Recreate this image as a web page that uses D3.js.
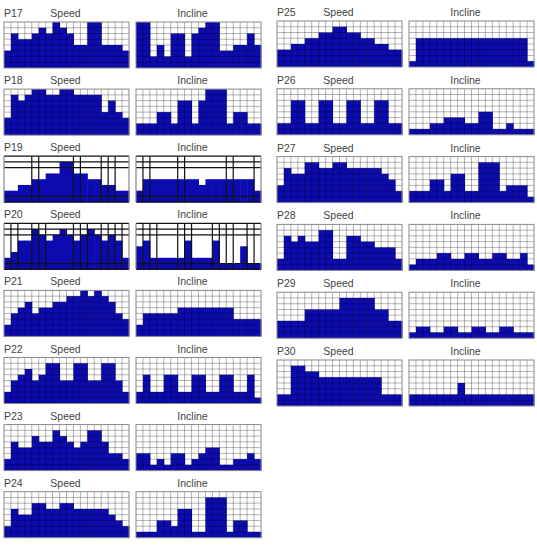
<!DOCTYPE html>
<html>
<head>
<meta charset="utf-8">
<script src="https://cdn.jsdelivr.net/npm/d3@7"></script>
<style>
  body { margin: 0; background: #fff; }
  svg { display: block; }
</style>
</head>
<body>
<script>
// program profiles, 18 segments each, level 0..8
const speedP17 = [3,6,5,5,6,7,6,8,7,6,4,4,8,8,4,4,4,3];
const inclineP17 = [8,8,2,4,2,6,6,2,6,7,8,8,3,3,4,4,6,4];
const speedP18 = [3,7,6,7,8,8,7,7,8,8,7,7,7,7,4,6,4,3];
const inclineP18 = [2,2,2,4,4,2,6,6,2,6,8,8,8,2,4,4,2,2];
const speedP19 = [2,2,3,3,4,4,5,5,7,7,5,5,4,4,3,3,2,2];
const inclineP19 = [2,4,4,4,4,4,4,4,4,3,4,4,4,4,4,4,4,2];
const speedP20 = [2,3,5,5,7,6,5,6,7,6,5,6,7,6,5,6,5,2];
const inclineP20 = [4,5,2,2,2,2,2,5,2,2,2,5,1,1,1,4,1,1];
const speedP21 = [2,4,5,6,4,5,5,6,6,7,7,8,7,8,7,6,4,3];
const inclineP21 = [2,4,4,4,4,4,5,5,5,5,5,5,5,5,3,3,3,3];
const speedP22 = [2,4,5,6,4,5,7,7,4,4,7,7,4,4,7,7,4,2];
const inclineP22 = [2,5,2,2,5,5,2,2,5,5,2,2,5,5,2,2,5,1];
const speedP23 = [2,5,4,4,6,5,5,7,6,5,4,5,7,7,5,3,3,2];
const inclineP23 = [3,3,1,2,1,3,3,1,2,3,4,4,1,1,2,2,3,2];
const speedP24 = [2,5,4,4,6,6,5,5,6,6,5,5,5,5,5,4,3,2];
const inclineP24 = [1,1,1,3,3,2,5,5,1,1,7,7,7,1,3,3,1,1];
const speedP25 = [3,3,4,4,5,5,6,6,7,7,6,6,5,5,4,4,3,3];
const inclineP25 = [1,5,5,5,5,5,5,5,5,5,5,5,5,5,5,5,5,1];
const speedP26 = [2,2,6,6,2,2,6,6,2,2,6,6,2,2,6,6,2,2];
const inclineP26 = [1,1,1,2,2,3,3,3,2,2,4,4,1,1,2,1,1,1];
const speedP27 = [3,6,5,5,7,7,6,6,7,7,6,6,6,6,6,5,4,2];
const inclineP27 = [2,2,2,4,4,2,5,5,2,2,7,7,7,2,3,3,3,1];
const speedP28 = [2,6,5,6,5,5,7,7,2,2,6,6,5,5,4,4,4,2];
const inclineP28 = [1,2,2,2,3,3,2,2,3,3,2,2,3,3,2,2,3,1];
const speedP29 = [3,3,3,3,5,5,5,5,5,7,7,7,7,7,5,5,3,3];
const inclineP29 = [1,2,2,1,1,2,2,1,1,2,2,1,1,2,2,1,1,1];
const speedP30 = [2,2,7,7,6,6,5,5,5,5,5,5,5,5,5,2,2,2];
const inclineP30 = [2,2,2,2,2,2,2,4,2,2,2,2,2,2,2,2,2,2];

const programNames = ["P17","P18","P19","P20","P21","P22","P23","P24",
                      "P25","P26","P27","P28","P29","P30"];
const speedSeries = [speedP17,speedP18,speedP19,speedP20,speedP21,speedP22,speedP23,speedP24,
                     speedP25,speedP26,speedP27,speedP28,speedP29,speedP30];
const inclineSeries = [inclineP17,inclineP18,inclineP19,inclineP20,inclineP21,inclineP22,inclineP23,inclineP24,
                       inclineP25,inclineP26,inclineP27,inclineP28,inclineP29,inclineP30];

// P19 and P20 are printed with a coarse black segment grid instead of the fine one
const coarseLines = {
  P19: { speed: [4,5,10,11,14,15,16], incline: [1,2,6,7,13,14,17], rows: [1,6,7] },
  P20: { speed: [1,2,4,5,6,10,11,12,14,15,16,17], incline: [1,2,3,6,7,8,11,12,13,14,16,17], rows: [1,6,7] }
};

const nCols = 18;
const nRows = 8;
const gridW = 125;
const gridH = 46;
const blue = "#0b0bb0";

const svg = d3.select("body").append("svg")
  .attr("width", 537)
  .attr("height", 550);

const x = d3.scaleBand().domain(d3.range(nCols)).range([0, gridW]).paddingInner(0).paddingOuter(0);
const xl = d3.scaleLinear().domain([0, nCols]).range([0, gridW]);
const y = d3.scaleLinear().domain([0, nRows]).range([gridH, 0]);

function drawGrid(g, values, coarse) {
  g.append("rect")
    .attr("width", gridW)
    .attr("height", gridH)
    .attr("fill", "#fff");

  g.selectAll("rect.bar")
    .data(values)
    .join("rect")
    .attr("class", "bar")
    .attr("x", (d, i) => x(i))
    .attr("width", x.bandwidth() + 0.5)
    .attr("y", d => y(d))
    .attr("height", d => gridH - y(d))
    .attr("fill", blue);

  if (!coarse) {
    const lines = g.append("g").attr("stroke", "#000").attr("stroke-opacity", 0.33).attr("stroke-width", 0.9);
    lines.selectAll("line.v")
      .data(d3.range(1, nCols))
      .join("line")
      .attr("x1", d => xl(d)).attr("x2", d => xl(d))
      .attr("y1", 0).attr("y2", gridH);
    lines.selectAll("line.h")
      .data(d3.range(1, nRows))
      .join("line")
      .attr("y1", d => y(d)).attr("y2", d => y(d))
      .attr("x1", 0).attr("x2", gridW);
    g.append("rect")
      .attr("width", gridW)
      .attr("height", gridH)
      .attr("fill", "none")
      .attr("stroke", "#888")
      .attr("stroke-width", 1);
  } else {
    const lines = g.append("g").attr("stroke", "#111").attr("stroke-width", 1.2);
    lines.selectAll("line.v")
      .data(coarse.cols)
      .join("line")
      .attr("x1", d => xl(d)).attr("x2", d => xl(d))
      .attr("y1", 0).attr("y2", gridH);
    lines.selectAll("line.h")
      .data(coarse.rows.concat([0, nRows]))
      .join("line")
      .attr("y1", d => y(d)).attr("y2", d => y(d))
      .attr("x1", 0).attr("x2", gridW);
    lines.append("line").attr("x1", 0).attr("x2", 0).attr("y1", 0).attr("y2", gridH).attr("stroke", "#888");
    lines.append("line").attr("x1", gridW).attr("x2", gridW).attr("y1", 0).attr("y2", gridH).attr("stroke", "#888");
  }
}

const columns = [
  { speedX: 4, inclineX: 136, top: 22, step: 67.1 },
  { speedX: 277, inclineX: 409, top: 21, step: 67.8 }
];

programNames.forEach((name, i) => {
  const col = columns[i < 8 ? 0 : 1];
  const row = i < 8 ? i : i - 8;
  const top = col.top + row * col.step;
  const panel = svg.append("g");

  panel.append("text")
    .attr("x", col.speedX)
    .attr("y", top - 5)
    .attr("font-family", "Liberation Sans, Arial, sans-serif")
    .attr("font-size", 10.5)
    .attr("fill", "#444")
    .text(name);
  panel.append("text")
    .attr("x", col.speedX + gridW / 2 - 1)
    .attr("y", top - 5)
    .attr("text-anchor", "middle")
    .attr("font-family", "Liberation Sans, Arial, sans-serif")
    .attr("font-size", 10.5)
    .attr("fill", "#444")
    .text("Speed");
  panel.append("text")
    .attr("x", col.inclineX + gridW / 2 - 6)
    .attr("y", top - 5)
    .attr("text-anchor", "middle")
    .attr("font-family", "Liberation Sans, Arial, sans-serif")
    .attr("font-size", 10.5)
    .attr("fill", "#444")
    .text("Incline");

  const c = coarseLines[name];
  drawGrid(panel.append("g").attr("transform", `translate(${col.speedX},${top})`),
    speedSeries[i], c ? { cols: c.speed, rows: c.rows } : null);
  drawGrid(panel.append("g").attr("transform", `translate(${col.inclineX},${top})`),
    inclineSeries[i], c ? { cols: c.incline, rows: c.rows } : null);
});
</script>
</body>
</html>
